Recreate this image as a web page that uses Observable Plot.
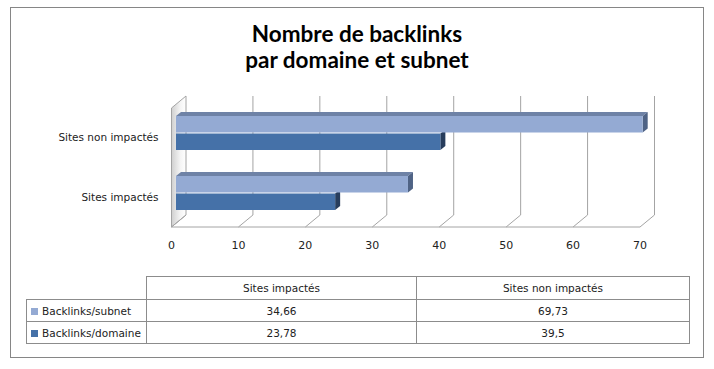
<!DOCTYPE html>
<html>
<head>
<meta charset="utf-8">
<script src="https://cdn.jsdelivr.net/npm/d3@7"></script>
<script src="https://cdn.jsdelivr.net/npm/@observablehq/plot@0.6"></script>
<style>
  body { margin: 0; background: #fff; }
  #wrap { position: relative; width: 714px; height: 369px; overflow: hidden; font-family: "DejaVu Sans", sans-serif; }
  #frame { position: absolute; left: 10px; top: 7px; width: 694px; height: 351px; box-sizing: border-box; border: 1px solid #868686; }
  #title { position: absolute; left: 10px; width: 694px; top: 21px; text-align: center; font: 700 22.5px Lato, sans-serif; line-height: 26px; color: #000; }
  #chart { position: absolute; left: 0; top: 0; }
  #table { position: absolute; left: 26px; top: 276px; border-collapse: collapse; font-size: 10.5px; color: #222; }
  #table td { border: 1px solid #8c8c8c; text-align: center; padding: 0; height: 21px; box-sizing: border-box; }
  #table td.lab { text-align: left; padding-left: 4px; white-space: nowrap; }
  #table td.corner { border: none; }
  .sw { display: inline-block; width: 7px; height: 7px; margin-right: 4px; vertical-align: 0px; }
</style>
</head>
<body>
<div id="wrap">
  <div id="frame"></div>
  <div id="title">Nombre de backlinks<br>par domaine et subnet</div>
  <div id="chart"></div>
  <table id="table"></table>
</div>
<script>
// ---- data ----
const categories = ["Sites impactés", "Sites non impactés"];
const seriesNames = ["Backlinks/subnet", "Backlinks/domaine"];
const subnetValues = [34.66, 69.73];
const domaineValues = [23.78, 39.5];
const xTicks = [0, 10, 20, 30, 40, 50, 60, 70];

// ---- styles ----
const colors = { "Backlinks/subnet": "#94aad3", "Backlinks/domaine": "#4571a8" };
const topColors = { "Backlinks/subnet": "#6e82a6", "Backlinks/domaine": "#34547e" };
const capColors = { "Backlinks/subnet": "#4f6385", "Backlinks/domaine": "#273d5c" };
const gridColor = "#a4a4a4";

const rows = [];
categories.forEach((c, i) => {
  rows.push({ category: c, series: seriesNames[0], value: subnetValues[i] });
  rows.push({ category: c, series: seriesNames[1], value: domaineValues[i] });
});

// 3D geometry (pixels)
const BACK = 10, FRONT = -4.5, DEPTH_Y = 12;   // walls/floor
const BDX = 5, BDY = 4;                         // bar depth

function decor(index, scales, values, dims) {
  const x = scales.x;
  const top = dims.marginTop, bot = dims.height - dims.marginBottom;
  const g = d3.create("svg:g");
  const defs = g.append("defs");
  const grad = defs.append("linearGradient").attr("id", "wallgrad").attr("x1", 0).attr("x2", 1).attr("y1", 0).attr("y2", 0);
  grad.append("stop").attr("offset", 0).attr("stop-color", "#cfcfcf");
  grad.append("stop").attr("offset", 0.6).attr("stop-color", "#f4f4f4");
  grad.append("stop").attr("offset", 1).attr("stop-color", "#ffffff");
  const x0 = x(xTicks[0]);
  // left wall
  g.append("path")
    .attr("d", `M${x0 + BACK},${top}L${x0 + BACK},${bot}L${x0 + FRONT},${bot + DEPTH_Y}L${x0 + FRONT},${top + DEPTH_Y}Z`)
    .attr("fill", "url(#wallgrad)").attr("stroke", gridColor).attr("stroke-width", 1);
  // back wall gridlines and floor diagonals
  for (const t of xTicks) {
    const xb = x(t) + BACK, xf = x(t) + FRONT;
    if (t !== xTicks[0]) {
      g.append("line").attr("x1", xb).attr("x2", xb).attr("y1", top).attr("y2", bot)
        .attr("stroke", gridColor);
    }
    g.append("line").attr("x1", xb).attr("x2", xf).attr("y1", bot).attr("y2", bot + DEPTH_Y)
      .attr("stroke", gridColor);
  }
  // front floor edge
  g.append("line")
    .attr("x1", x0 + FRONT).attr("x2", x(xTicks[xTicks.length - 1]) + FRONT)
    .attr("y1", bot + DEPTH_Y).attr("y2", bot + DEPTH_Y)
    .attr("stroke", gridColor);
  return g.node();
}

function barFaces(index, scales) {
  const x = scales.x, y = scales.y;
  const bw = typeof y.bandwidth === "function" ? y.bandwidth() : y.bandwidth;
  const half = bw / 2;
  const g = d3.create("svg:g");
  for (const r of rows) {
    const yb = y(r.category);
    const isTop = r.series === seriesNames[0];
    const y0 = isTop ? yb : yb + half + 0.5;
    const y1 = isTop ? yb + half - 0.5 : yb + bw;
    const xa = x(0), xe = x(r.value);
    if (isTop) {
      g.append("path")
        .attr("d", `M${xa},${y0}L${xa + BDX},${y0 - BDY}L${xe + BDX},${y0 - BDY}L${xe},${y0}Z`)
        .attr("fill", topColors[r.series]);
    }
    g.append("path")
      .attr("d", `M${xe},${y0}L${xe + BDX},${y0 - BDY}L${xe + BDX},${y1 - BDY}L${xe},${y1}Z`)
      .attr("fill", capColors[r.series]);
  }
  return g.node();
}

const chart = Plot.plot({
  width: 714,
  height: 369,
  marginLeft: 176,
  marginRight: 69.5,
  marginTop: 96,
  marginBottom: 154,
  style: { background: "transparent", fontFamily: "DejaVu Sans, sans-serif", fontSize: "10.5px", color: "#222" },
  x: { domain: [0, 70], axis: null },
  y: { domain: [categories[1], categories[0]], range: [90.5, 236.5], padding: 0.4333, axis: null },
  marks: [
    decor,
    barFaces,
    Plot.barX(rows.filter(d => d.series === seriesNames[0]), {
      x: "value", y: "category", fill: d => colors[d.series], insetBottom: 17.5
    }),
    Plot.barX(rows.filter(d => d.series === seriesNames[1]), {
      x: "value", y: "category", fill: d => colors[d.series], insetTop: 17.5
    }),
    Plot.text(categories, {
      y: d => d, frameAnchor: "left", textAnchor: "end", dx: -18, dy: 4, fill: "#222", fontSize: 10.5
    }),
    Plot.text(xTicks, {
      x: d => d, frameAnchor: "bottom", dy: 33, dx: -5, fill: "#222", fontSize: 11
    })
  ]
});
document.getElementById("chart").appendChild(chart);

// ---- data table ----
const fmt = v => String(v).replace(".", ",");
const table = d3.select("#table");
const colW = [120, 270, 273];
const hdr = table.append("tr").style("height", "23px");
hdr.append("td").attr("class", "corner").style("width", colW[0] + "px").style("height", "23px");
categories.forEach((c, i) => hdr.append("td").style("width", colW[i + 1] + "px").style("height", "23px").text(c));
const seriesValues = [subnetValues, domaineValues];
seriesNames.forEach((s, si) => {
  const tr = table.append("tr");
  const lab = tr.append("td").attr("class", "lab").style("height", "22px");
  lab.append("span").attr("class", "sw").style("background", colors[s]);
  lab.append("span").text(s);
  categories.forEach((c, ci) => tr.append("td").style("height", "22px").text(fmt(seriesValues[si][ci])));
});
</script>
</body>
</html>
